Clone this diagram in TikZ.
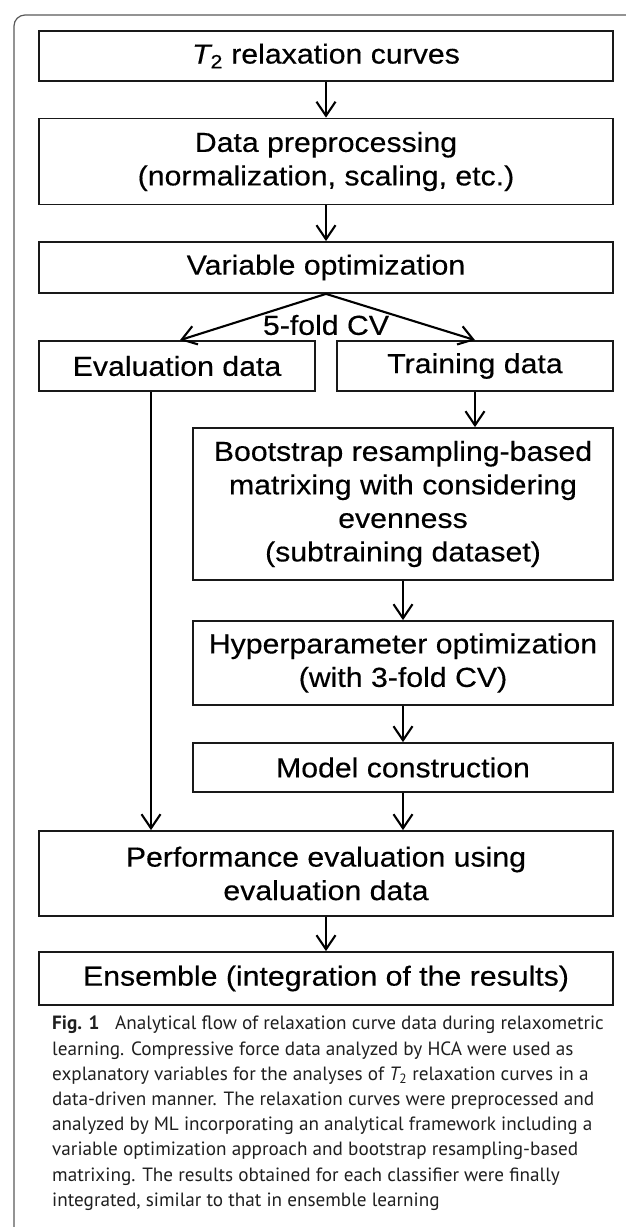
\documentclass[tikz,border=0pt]{standalone}
\usepackage{fontspec}
\setmainfont{Liberation Sans}
\newfontfamily\boxfont{Liberation Sans}[FakeStretch=1.1,FakeBold=0.4]
\newfontfamily\capfont{PT Sans}
\usetikzlibrary{arrows.meta}
\begin{document}
\begin{tikzpicture}[x=1pt,y=-1pt,
  box/.style={draw=black!90, line width=1.8pt, inner sep=0pt, align=center,
    font=\boxfont\fontsize{27.5}{33.5}\selectfont},
  lbl/.style={inner sep=0pt, font=\boxfont\fontsize{27.5}{33.5}\selectfont},
  arr/.style={line width=2.1pt, -{Straight Barb[length=14pt,width=19pt,line width=2.1pt]}},
  framestyle/.style={draw=black!65, line width=1.2pt},
  captext/.style={inner sep=0pt, align=left, text=black!88,
    font=\capfont\fontsize{19.2}{25.2}\selectfont}]
\useasboundingbox (0,0) rectangle (626,1227);
\draw[framestyle, rounded corners=11pt] (14,1227) -- (14,15) -- (626,15);

\node[box, minimum width=574pt, minimum height=50pt] (b1) at (326,56) {{\itshape T}\textsubscript{2} relaxation curves};
\node[box, minimum width=574pt, minimum height=86pt] (b2) at (326,161.5) {Data preprocessing\\(normalization, scaling, etc.)};
\node[box, minimum width=574pt, minimum height=51pt] (b3) at (326,267.5) {Variable optimization};
\node[box, minimum width=276pt, minimum height=50pt] (ev) at (177,366) {Evaluation data};
\node[box, minimum width=276pt, minimum height=50pt] (tr) at (475,366) {Training data};
\node[box, minimum width=420pt, minimum height=152pt] (bs) at (403,504) {Bootstrap resampling-based\\matrixing with considering\\evenness\\(subtraining dataset)};
\node[box, minimum width=420pt, minimum height=84pt] (hy) at (403,663) {Hyperparameter optimization\\(with 3-fold CV)};
\node[box, minimum width=420pt, minimum height=49pt] (mo) at (403,767.5) {Model construction};
\node[box, minimum width=574pt, minimum height=85pt] (pe) at (326,873.5) {Performance evaluation using\\evaluation data};
\node[box, minimum width=574pt, minimum height=53pt] (en) at (326,978.5) {Ensemble (integration of the results)};

\node[lbl] (cv) at (326,325) {5-fold CV};

\draw[arr] (b1) -- (b2);
\draw[arr] (b2) -- (b3);
\draw[arr] (b3.south) -- ([xshift=3pt]ev.north);
\draw[arr] (b3.south) -- (tr.north);
\draw[arr] ([xshift=-26pt]ev.south) -- ([xshift=-26pt]ev.south |- pe.north);
\draw[arr] (tr.south) -- (tr.south |- bs.north);
\draw[arr] (bs) -- (hy);
\draw[arr] (hy) -- (mo);
\draw[arr] (mo) -- (mo.south |- pe.north);
\draw[arr] (pe) -- (en);

\node[captext, anchor=north west] (caption) at (52,1016) {{\bfseries Fig. 1}\hspace{0.55em} Analytical flow of relaxation curve data during relaxometric\\
learning. Compressive force data analyzed by HCA were used as\\
explanatory variables for the analyses of {\itshape T}\textsubscript{2} relaxation curves in a\\
data-driven manner. The relaxation curves were preprocessed and\\
analyzed by ML incorporating an analytical framework including a\\
variable optimization approach and bootstrap resampling-based\\
matrixing. The results obtained for each classifier were finally\\
integrated, similar to that in ensemble learning};
\end{tikzpicture}
\end{document}
